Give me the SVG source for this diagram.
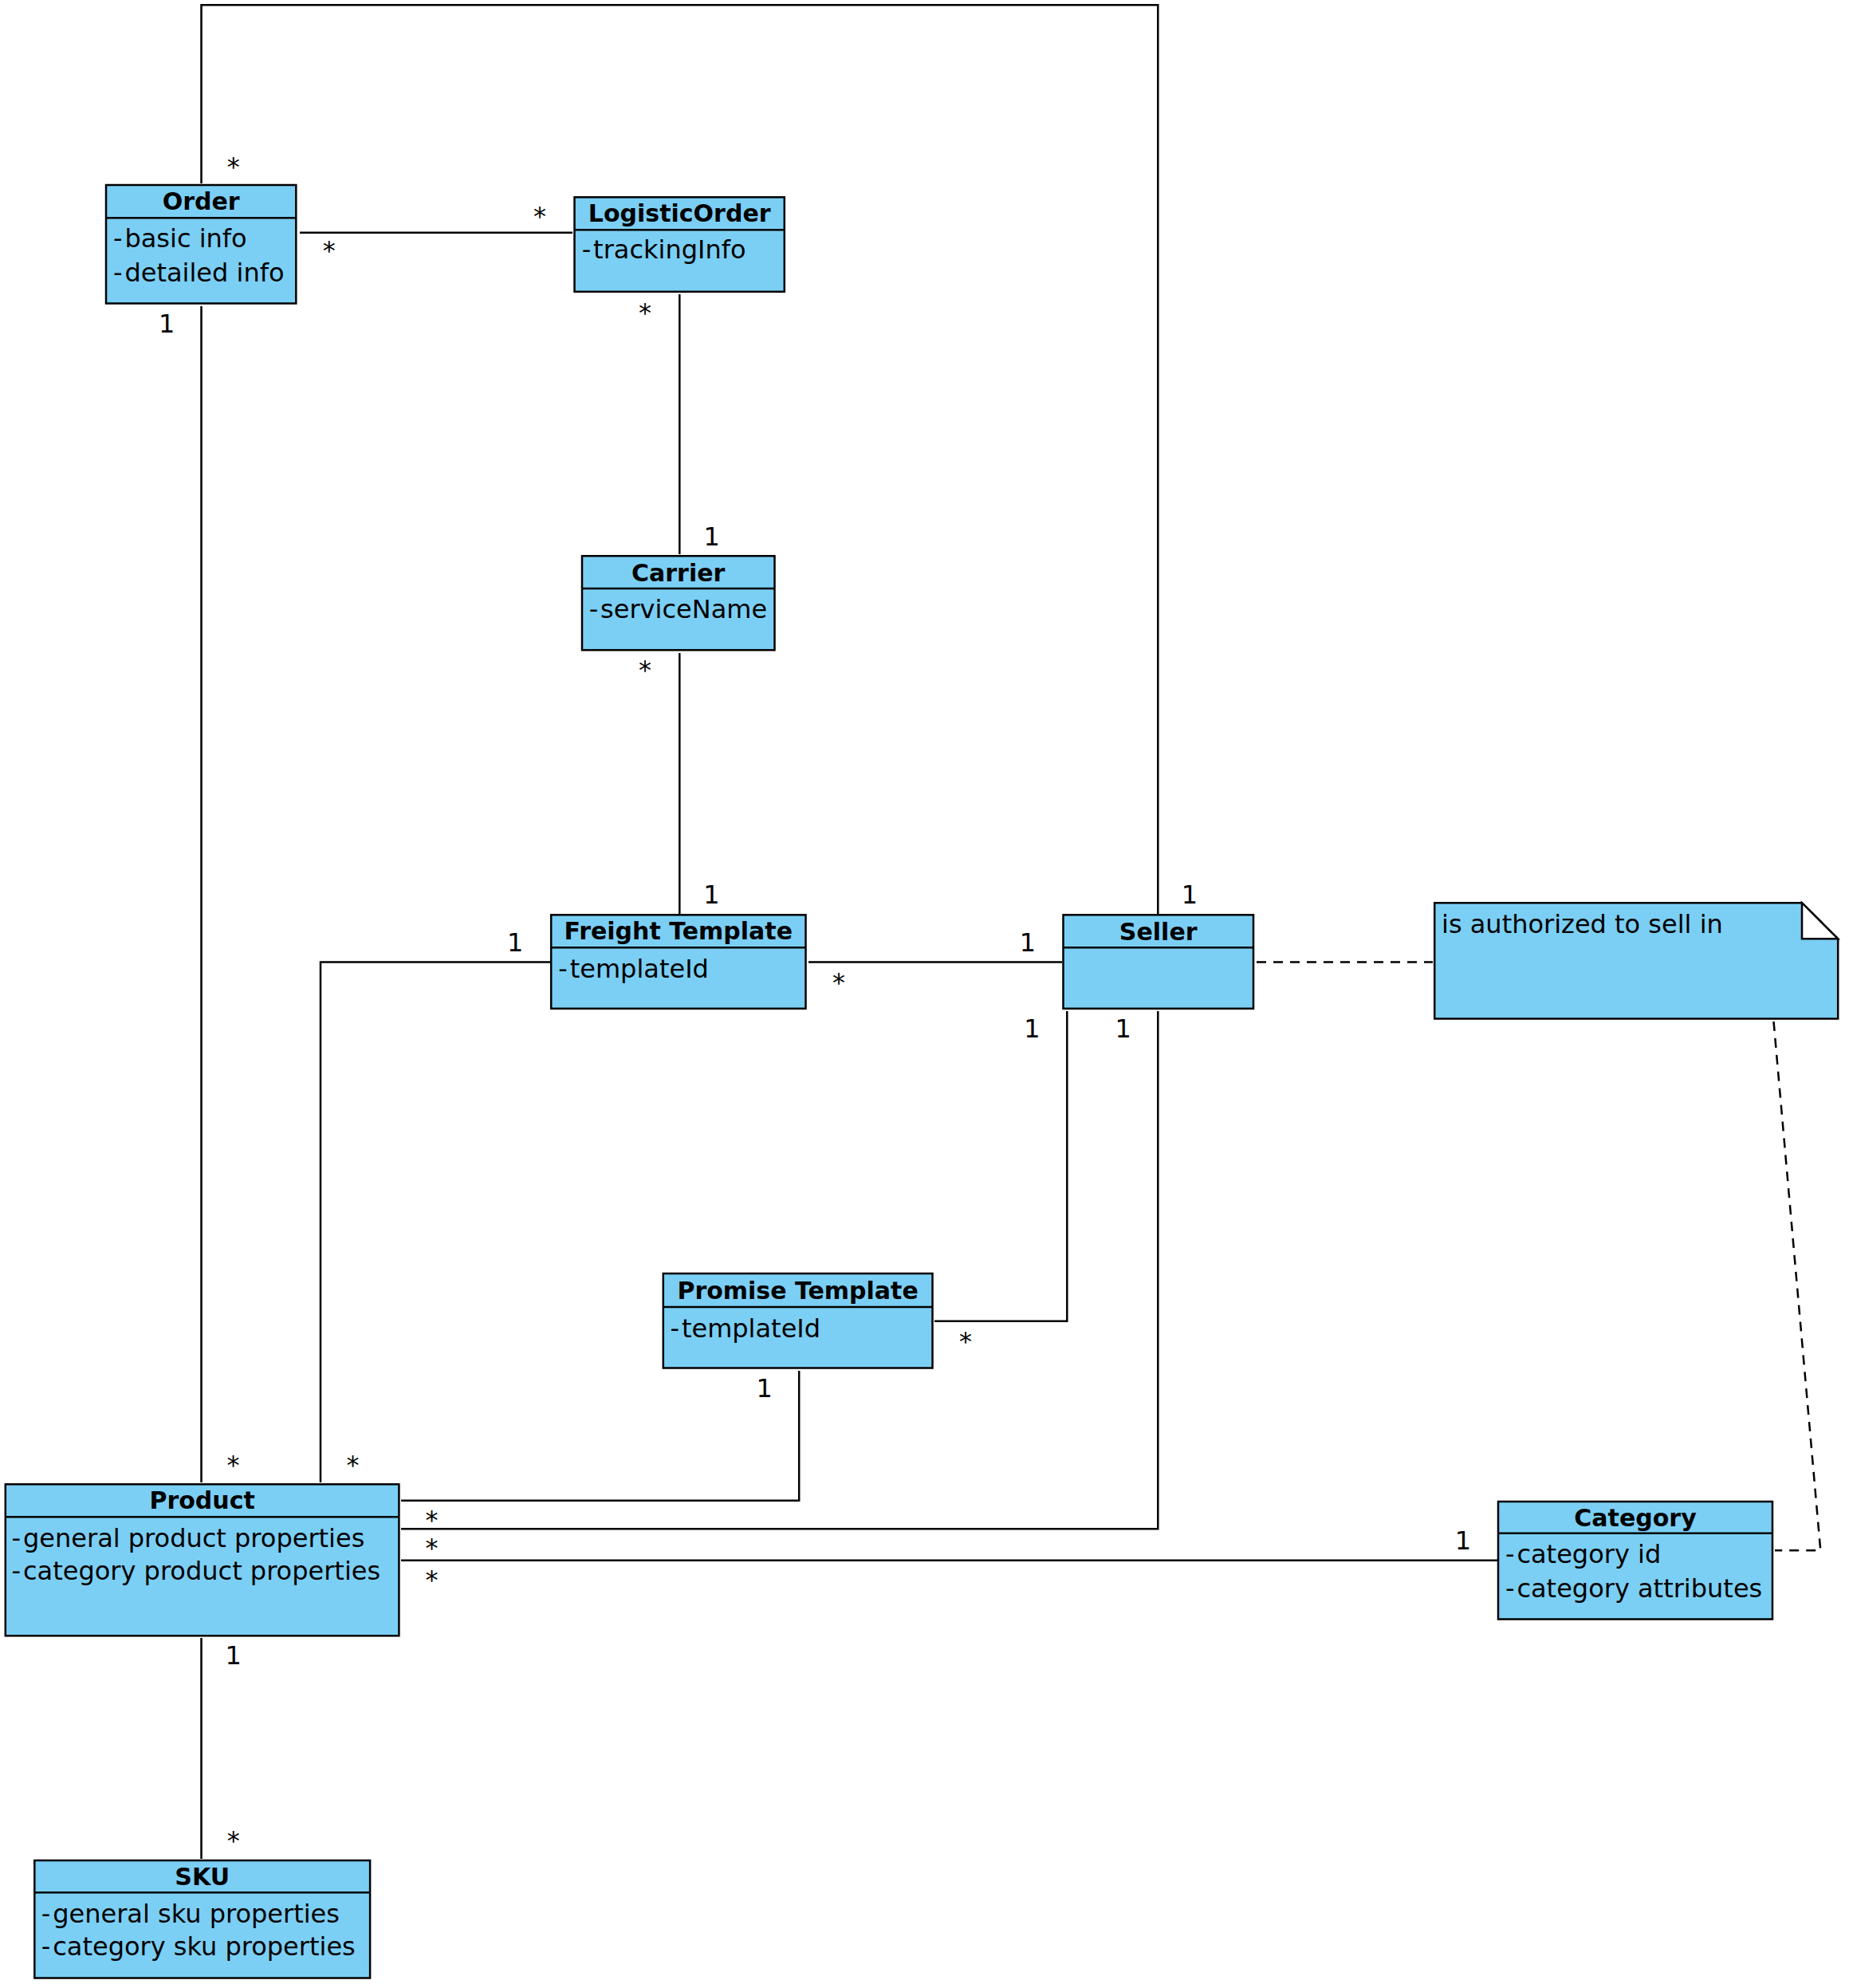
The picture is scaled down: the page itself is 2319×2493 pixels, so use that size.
<svg xmlns="http://www.w3.org/2000/svg" width="2319" height="2493" viewBox="0 0 2319 2493">
<style>
.box{fill:#7BCFF5;stroke:#000;stroke-width:2.5}
.dv{stroke:#000;stroke-width:2.5}
.t{font-family:"DejaVu Sans",sans-serif;font-size:30px;font-weight:bold;text-anchor:middle;fill:#000}
.a{font-family:"DejaVu Sans",sans-serif;font-size:32px;fill:#000}
.m{font-family:"DejaVu Sans",sans-serif;font-size:32px;text-anchor:middle;fill:#000}
.ln{fill:none;stroke:#000;stroke-width:2.5}
.dash{stroke-dasharray:12 9}
</style>
<rect width="2319" height="2493" fill="#fff"/>
<g id="connectors">
<polyline class="ln" points="252.5,230 252.5,6.2 1452.3,6.2 1452.3,1146"/>
<line class="ln" x1="376" y1="291.7" x2="718" y2="291.7"/>
<line class="ln" x1="852.3" y1="369" x2="852.3" y2="695"/>
<line class="ln" x1="852.3" y1="819" x2="852.3" y2="1146"/>
<line class="ln" x1="1014" y1="1206.5" x2="1332" y2="1206.5"/>
<polyline class="ln" points="690,1206.5 402,1206.5 402,1859"/>
<line class="ln" x1="252.5" y1="384" x2="252.5" y2="1859"/>
<polyline class="ln" points="1338.3,1268 1338.3,1656.7 1172,1656.7"/>
<polyline class="ln" points="1452.3,1268 1452.3,1917.3 503,1917.3"/>
<polyline class="ln" points="1002.2,1719 1002.2,1881.7 503,1881.7"/>
<line class="ln" x1="503" y1="1956.7" x2="1878" y2="1956.7"/>
<line class="ln" x1="252.5" y1="2054" x2="252.5" y2="2331"/>
<line class="ln dash" x1="1576" y1="1206.5" x2="1797" y2="1206.5"/>
<polyline class="ln dash" points="2224.5,1281 2283.3,1944.3 2226,1944.3"/>
<text class="m" x="292.7" y="219.7">*</text>
<text class="m" x="1492" y="1132.7">1</text>
<text class="m" x="412.7" y="324.7">*</text>
<text class="m" x="677" y="282">*</text>
<text class="m" x="809" y="402.5">*</text>
<text class="m" x="892.7" y="684">1</text>
<text class="m" x="809" y="851.3">*</text>
<text class="m" x="892.5" y="1132.7">1</text>
<text class="m" x="1052" y="1242.5">*</text>
<text class="m" x="1289" y="1193">1</text>
<text class="m" x="646.3" y="1193">1</text>
<text class="m" x="442.6" y="1848">*</text>
<text class="m" x="209.3" y="416.7">1</text>
<text class="m" x="292.5" y="1848">*</text>
<text class="m" x="1294.5" y="1300.7">1</text>
<text class="m" x="1211" y="1693">*</text>
<text class="m" x="1408.8" y="1300.7">1</text>
<text class="m" x="541.6" y="1952">*</text>
<text class="m" x="958.7" y="1751.7">1</text>
<text class="m" x="541.6" y="1917">*</text>
<text class="m" x="541.6" y="1992">*</text>
<text class="m" x="1835" y="1942.7">1</text>
<text class="m" x="292.8" y="2087">1</text>
<text class="m" x="292.8" y="2318.7">*</text>
</g>
<g id="order">
<rect class="box" x="133" y="232" width="238.3" height="148.5"/>
<line class="dv" x1="133" y1="273.3" x2="371.3" y2="273.3"/>
<text class="t" x="252.2" y="263.3">Order</text>
<text class="a" x="142" y="310">-<tspan x="156.4">basic info</tspan></text>
<text class="a" x="142" y="353.3">-<tspan x="156.4">detailed info</tspan></text>
</g>
<g id="logisticorder">
<rect class="box" x="720.5" y="247.3" width="263.3" height="118.5"/>
<line class="dv" x1="720.5" y1="288.3" x2="983.8" y2="288.3"/>
<text class="t" x="852.2" y="278.3">LogisticOrder</text>
<text class="a" x="729.7" y="324.4">-<tspan x="744.1">trackingInfo</tspan></text>
</g>
<g id="carrier">
<rect class="box" x="730" y="697.2" width="241.5" height="118"/>
<line class="dv" x1="730" y1="738" x2="971.5" y2="738"/>
<text class="t" x="850.7" y="728.5">Carrier</text>
<text class="a" x="738.7" y="774.7">-<tspan x="753.1">serviceName</tspan></text>
</g>
<g id="freighttemplate">
<rect class="box" x="691.2" y="1147.3" width="319.3" height="117.5"/>
<line class="dv" x1="691.2" y1="1188.3" x2="1010.5" y2="1188.3"/>
<text class="t" x="850.8" y="1178.3">Freight Template</text>
<text class="a" x="700.3" y="1226">-<tspan x="714.7">templateId</tspan></text>
</g>
<g id="seller">
<rect class="box" x="1333.5" y="1147.3" width="238.5" height="117.5"/>
<line class="dv" x1="1333.5" y1="1188.3" x2="1572" y2="1188.3"/>
<text class="t" x="1452.7" y="1179">Seller</text>
</g>
<g id="note">
<path d="M1799.2,1132.2 H2260 L2305.2,1177.3 V1277.5 H1799.2 Z" fill="#7BCFF5" stroke="#000" stroke-width="2.5"/>
<path d="M2260,1132.2 V1177.3 H2305.2 Z" fill="#fff" stroke="#000" stroke-width="2.5" stroke-linejoin="miter"/>
<text class="a" x="1808" y="1170">is authorized to sell in</text>
</g>
<g id="promisetemplate">
<rect class="box" x="831.8" y="1597" width="337.7" height="118.5"/>
<line class="dv" x1="831.8" y1="1639" x2="1169.5" y2="1639"/>
<text class="t" x="1000.6" y="1628.5">Promise Template</text>
<text class="a" x="840.5" y="1676.7">-<tspan x="854.9">templateId</tspan></text>
</g>
<g id="product">
<rect class="box" x="6.8" y="1861.3" width="493.6" height="190"/>
<line class="dv" x1="6.8" y1="1902.3" x2="500.4" y2="1902.3"/>
<text class="t" x="253.6" y="1892">Product</text>
<text class="a" x="14.6" y="1939.5">-<tspan x="29">general product properties</tspan></text>
<text class="a" x="14.6" y="1981">-<tspan x="29">category product properties</tspan></text>
</g>
<g id="category">
<rect class="box" x="1879" y="1883" width="344" height="147.5"/>
<line class="dv" x1="1879" y1="1922.7" x2="2223" y2="1922.7"/>
<text class="t" x="2051" y="1913.5">Category</text>
<text class="a" x="1888" y="1959.5">-<tspan x="1902.4">category id</tspan></text>
<text class="a" x="1888" y="2002.5">-<tspan x="1902.4">category attributes</tspan></text>
</g>
<g id="sku">
<rect class="box" x="43.3" y="2333" width="420.8" height="147.5"/>
<line class="dv" x1="43.3" y1="2373.3" x2="464.1" y2="2373.3"/>
<text class="t" x="253.7" y="2363.5">SKU</text>
<text class="a" x="51.8" y="2410.5">-<tspan x="66.2">general sku properties</tspan></text>
<text class="a" x="51.8" y="2452.3">-<tspan x="66.2">category sku properties</tspan></text>
</g>
</svg>
